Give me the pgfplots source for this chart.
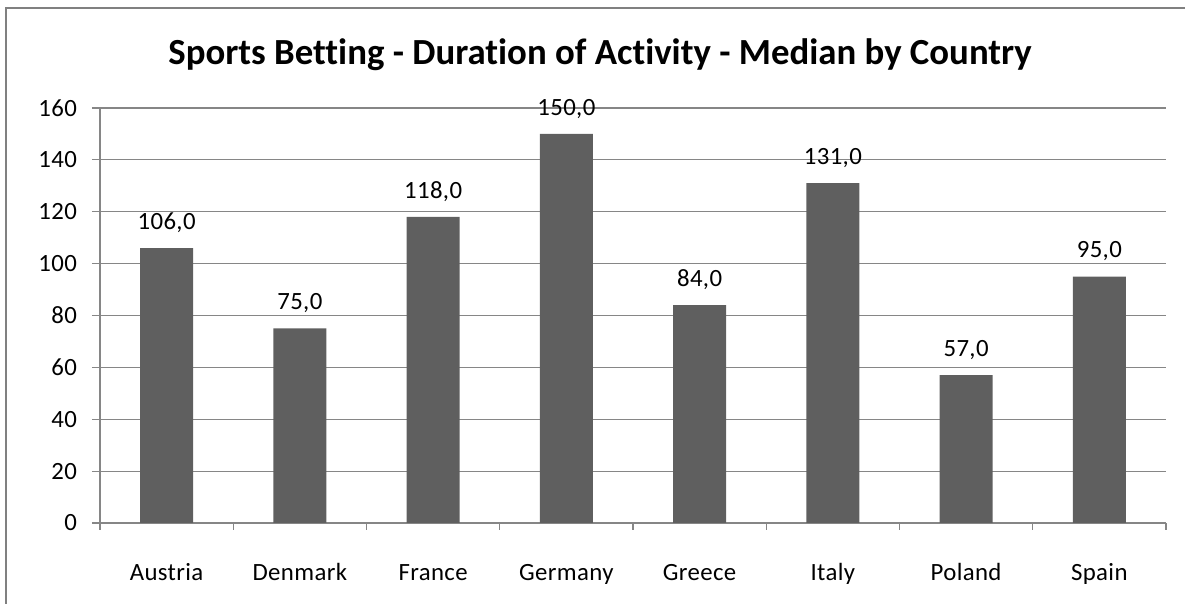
\documentclass[border=0pt]{standalone}
\usepackage{fontspec}
\setmainfont[Ligatures=NoCommon]{Carlito}
\newfontfamily\tickfont[LetterSpace=1.5]{Carlito}
\usepackage{pgfplots}
\pgfplotsset{compat=1.18}
\definecolor{barc}{RGB}{95,95,95}
\definecolor{gridc}{RGB}{134,134,134}
\definecolor{framec}{RGB}{128,128,128}

\pgfplotstableread{
x  val
0.5 106
1.5 75
2.5 118
3.5 150
4.5 84
5.5 131
6.5 57
7.5 95
}\duration

\begin{document}
\begin{tikzpicture}
  % page is 1185 x 604 px, 1 px = 0.5pt
  \path[use as bounding box] (0,0) rectangle (592.5pt,302pt);
  \draw[framec, line width=1pt] (3pt,0) -- (3pt,298pt) -- (592.5pt,298pt);
  \node[anchor=base, font=\bfseries\fontsize{18.4}{22}\selectfont]
    at (300pt,269.5pt) {Sports Betting - Duration of Activity - Median by Country};
  \begin{axis}[
    scale only axis,
    width=533pt, height=207.5pt,
    at={(50pt,40.5pt)}, anchor=south west,
    xmin=0, xmax=8,
    ymin=0, ymax=160,
    axis x line*=bottom,
    axis y line*=left,
    axis line style={-, draw=gridc, line width=0.6pt},
    xtick={0.5,1.5,...,7.5},
    xticklabels={Austria,Denmark,France,Germany,Greece,Italy,Poland,Spain},
    minor xtick={0,1,...,8},
    ytick={0,20,...,160},
    ymajorgrids,
    grid style={draw=gridc, line width=0.6pt},
    tick align=outside,
    major tick length=4pt,
    minor tick length=3.5pt,
    x tick style={draw=none},
    minor x tick style={draw=gridc, line width=0.6pt},
    y tick style={draw=gridc, line width=0.6pt},
    tick label style={font=\tickfont\fontsize{12.4}{14}\selectfont, text=black},
    xticklabel style={anchor=base, yshift=-25pt},
    yticklabel style={xshift=-4pt},
    /pgf/number format/assume math mode=true,
    clip=false,
  ]
  \addplot[ybar, bar width=26.5pt, fill=barc, draw=none,
    nodes near coords,
    nodes near coords style={font=\tickfont\fontsize{12.4}{14}\selectfont, text=black,
      anchor=base, inner sep=0pt, yshift=9.3pt,
      /pgf/number format/.cd, fixed, fixed zerofill, precision=1, use comma,
      assume math mode=true},
  ] table[x=x, y=val] {\duration};
  \end{axis}
\end{tikzpicture}
\end{document}
